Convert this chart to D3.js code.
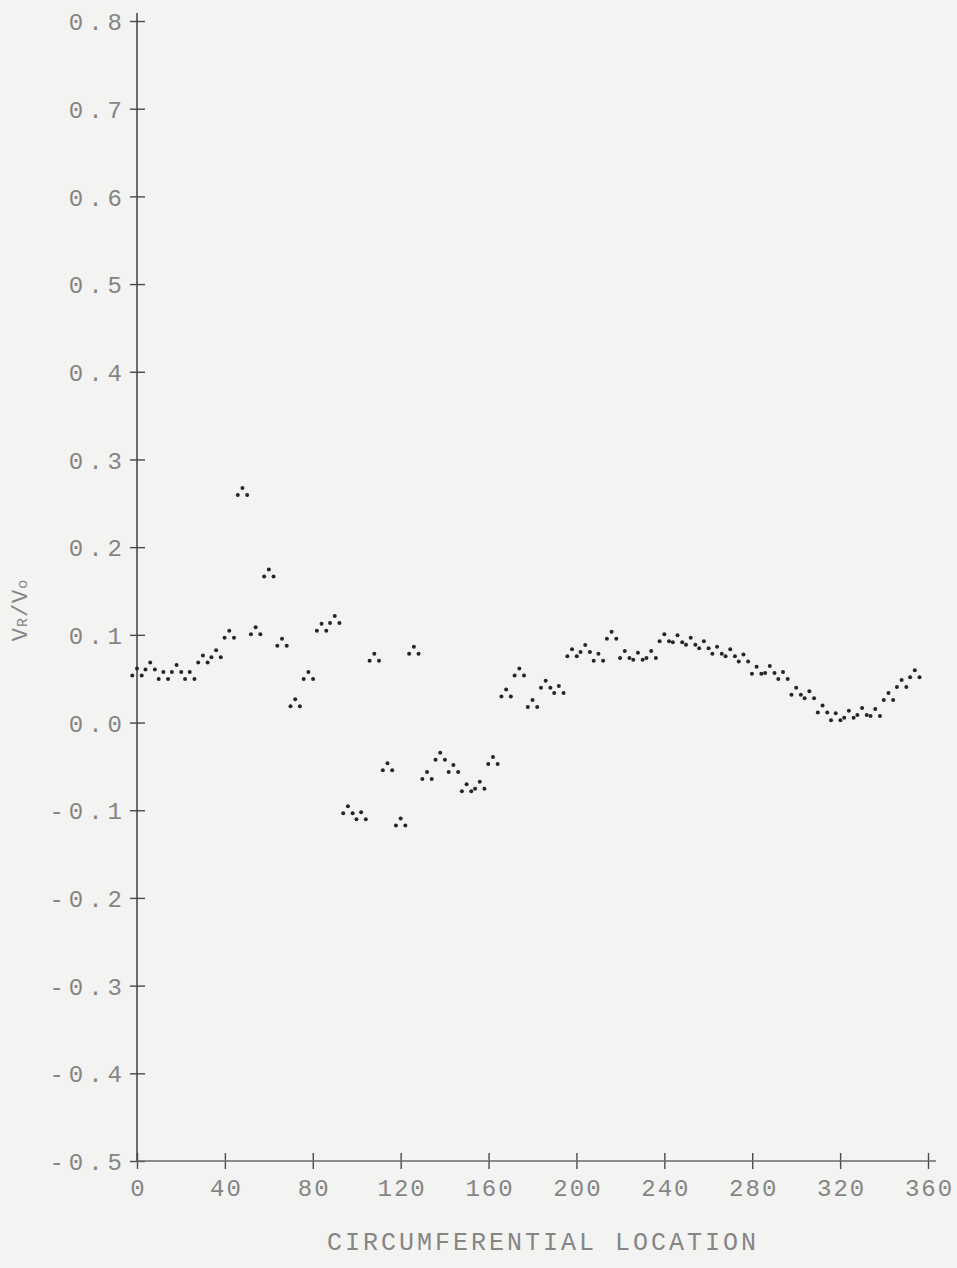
<!DOCTYPE html>
<html>
<head>
<meta charset="utf-8">
<script src="https://cdn.jsdelivr.net/npm/d3@7"></script>
<style>
  html, body { margin: 0; padding: 0; background: #f3f3f1; }
  svg { display: block; }
  .lbl { font-family: "Liberation Mono", "DejaVu Sans Mono", monospace; fill: #858585; }
</style>
</head>
<body>
<svg id="chart" width="957" height="1268"></svg>
<script>
// Circumferential location (deg), sampled every 6 degrees
const locations = [
  0, 6, 12, 18, 24, 30, 36, 42, 48, 54,
  60, 66, 72, 78, 84, 90, 96, 102, 108, 114,
  120, 126, 132, 138, 144, 150, 156, 162, 168, 174,
  180, 186, 192, 198, 204, 210, 216, 222, 228, 234,
  240, 246, 252, 258, 264, 270, 276, 282, 288, 294,
  300, 306, 312, 318, 324, 330, 336, 342, 348, 354
];
// Radial velocity ratio VR/Vo
const ratios = [
  0.057, 0.064, 0.053, 0.061, 0.053, 0.072, 0.078, 0.100, 0.263, 0.104,
  0.170, 0.091, 0.022, 0.053, 0.108, 0.117, -0.100, -0.107, 0.074, -0.051,
  -0.114, 0.082, -0.061, -0.039, -0.053, -0.075, -0.072, -0.044, 0.033, 0.057,
  0.021, 0.043, 0.037, 0.079, 0.084, 0.074, 0.099, 0.077, 0.075, 0.077,
  0.096, 0.095, 0.092, 0.088, 0.082, 0.079, 0.073, 0.059, 0.060, 0.053,
  0.035, 0.031, 0.015, 0.006, 0.009, 0.012, 0.011, 0.029, 0.044, 0.055
];

const xTicks = [0, 40, 80, 120, 160, 200, 240, 280, 320, 360];
const xTickLabels = ["0", "40", "80", "120", "160", "200", "240", "280", "320", "360"];
const yTicks = [0.8, 0.7, 0.6, 0.5, 0.4, 0.3, 0.2, 0.1, 0.0, -0.1, -0.2, -0.3, -0.4, -0.5];
const yTickLabels = ["0.8", "0.7", "0.6", "0.5", "0.4", "0.3", "0.2", "0.1", "0.0",
                     "-0.1", "-0.2", "-0.3", "-0.4", "-0.5"];

const svg = d3.select("#chart");

const x = d3.scaleLinear().domain([0, 360]).range([137, 928]);
const y = d3.scaleLinear().domain([-0.5, 0.8]).range([1161, 21]);

const axisColor = "#4a4a4a";

// Y axis: plotter-style crosses at each tick
const yAxis = svg.append("g")
  .attr("transform", `translate(${x(0)},0)`)
  .call(d3.axisLeft(y).tickValues(yTicks).tickFormat((d, i) => yTickLabels[i])
        .tickSize(8).tickSizeOuter(0));
yAxis.select(".domain").remove();
yAxis.selectAll(".tick line").attr("x1", -7).attr("x2", 8)
  .attr("stroke", axisColor).attr("stroke-width", 1.4);
yAxis.selectAll(".tick text")
  .attr("class", "lbl")
  .attr("x", -10)
  .attr("dy", "0.36em")
  .style("font-size", "24px")
  .style("letter-spacing", "5px");
svg.append("line")
  .attr("x1", x(0)).attr("x2", x(0))
  .attr("y1", y(0.8) - 8).attr("y2", y(-0.5))
  .attr("stroke", axisColor).attr("stroke-width", 1.6);

// X axis
const xAxis = svg.append("g")
  .attr("transform", `translate(0,${y(-0.5)})`)
  .call(d3.axisBottom(x).tickValues(xTicks).tickFormat((d, i) => xTickLabels[i])
        .tickSize(8).tickSizeOuter(0));
xAxis.select(".domain").remove();
xAxis.selectAll(".tick line").attr("y1", -8).attr("y2", 8)
  .attr("stroke", axisColor).attr("stroke-width", 1.4);
xAxis.selectAll(".tick text")
  .attr("class", "lbl")
  .attr("y", 35).attr("dy", 0).attr("dx", 1)
  .style("font-size", "24px")
  .style("letter-spacing", "2px");
svg.append("line")
  .attr("x1", x(0)).attr("x2", x(360) + 8)
  .attr("y1", y(-0.5)).attr("y2", y(-0.5))
  .attr("stroke", "#6a6a6a").attr("stroke-width", 1.3);

// Axis titles
svg.append("text")
  .attr("class", "lbl")
  .attr("x", 543).attr("y", 1250)
  .attr("text-anchor", "middle")
  .style("font-size", "25px")
  .style("letter-spacing", "3px")
  .text("CIRCUMFERENTIAL LOCATION");

const yTitle = svg.append("text")
  .attr("class", "lbl")
  .attr("transform", "translate(27,610) rotate(-90)")
  .attr("text-anchor", "middle")
  .style("font-size", "22px")
  .style("letter-spacing", "1px");
yTitle.append("tspan").text("V");
yTitle.append("tspan").style("font-size", "15px").text("R");
yTitle.append("tspan").text("/V");
yTitle.append("tspan").style("font-size", "15px").text("o");

// Data markers: three-dot triangles
const pts = locations.map((d, i) => ({ loc: d, v: ratios[i] }));
const dotOffsets = [[0, -4], [-4.7, 3], [4.7, 3]];
const marks = svg.append("g").attr("fill", "#262626");
pts.forEach(p => {
  dotOffsets.forEach(o => {
    marks.append("circle")
      .attr("cx", x(p.loc) + o[0])
      .attr("cy", y(p.v) + o[1])
      .attr("r", 2);
  });
});
</script>
</body>
</html>
